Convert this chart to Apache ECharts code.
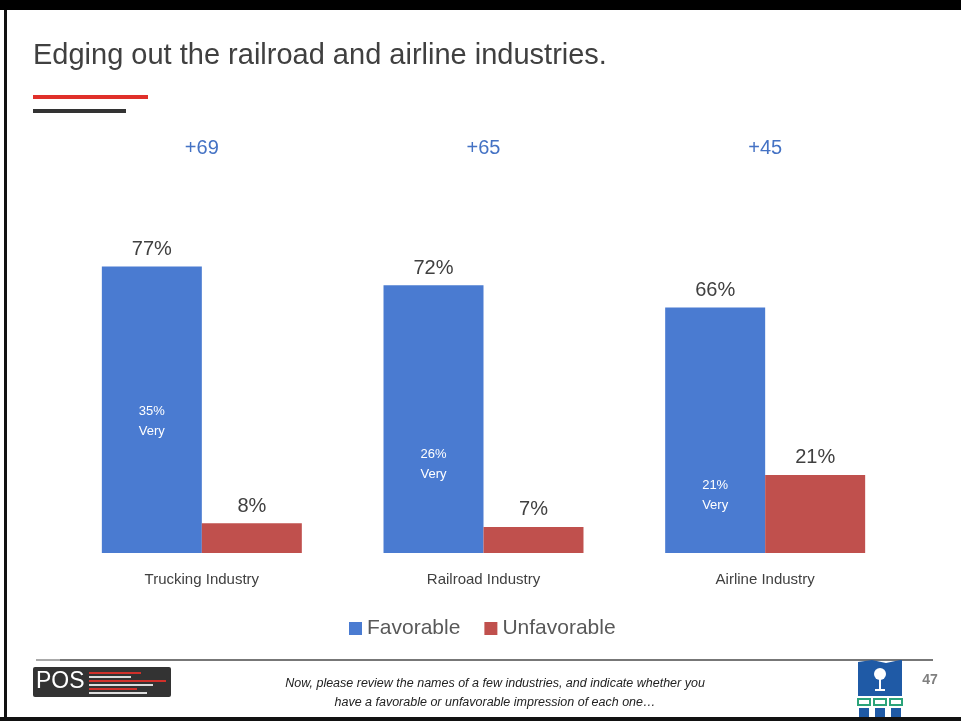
<!DOCTYPE html>
<html>
<head>
<meta charset="utf-8">
<script src="https://cdn.jsdelivr.net/npm/echarts@6/dist/echarts.min.js"></script>
<style>
html,body{margin:0;padding:0;background:#fff;}
#chart{width:961px;height:721px;}
</style>
</head>
<body>
<div id="chart"></div>
<script>
var categories = ['Trucking Industry', 'Railroad Industry', 'Airline Industry'];
var favorable = [77, 72, 66];
var unfavorable = [8, 7, 21];
var veryFavorable = [35, 26, 21];
var netScores = [69, 65, 45];

var chart = echarts.init(document.getElementById('chart'));
var FONT = "'Liberation Sans', 'Open Sans', sans-serif";
var veryOffsets = [[0, -1], [0, 8], [0, 21]];

var option = {
  animation: false,
  backgroundColor: '#ffffff',
  textStyle: { fontFamily: FONT },
  grid: { left: 61, right: 55, top: 181, bottom: 168 },
  legend: {
    left: 344, top: 613,
    itemWidth: 13, itemHeight: 13, itemGap: 24,
    icon: 'rect',
    textStyle: { fontSize: 21, color: '#595959', fontFamily: FONT },
    data: ['Favorable', 'Unfavorable']
  },
  xAxis: [{
    type: 'category', data: categories,
    axisLine: { show: false }, axisTick: { show: false },
    axisLabel: { margin: 19, fontSize: 15, color: '#404040', fontFamily: FONT }
  }, {
    type: 'category', data: categories, position: 'top',
    axisLine: { show: false }, axisTick: { show: false },
    axisLabel: {
      margin: 23, fontSize: 20, color: '#4472C4', fontFamily: FONT,
      formatter: function (v, i) { return '+' + netScores[i]; }
    }
  }],
  yAxis: { type: 'value', min: 0, max: 100, show: false, splitLine: { show: false } },
  series: [{
    name: 'Favorable', type: 'bar', data: favorable,
    barGap: '0%', barCategoryGap: '29%',
    itemStyle: { color: '#4A7BD1' },
    label: { show: true, position: 'top', distance: 7, fontSize: 20, color: '#404040',
      formatter: '{c}%' },
    markPoint: {
      symbol: 'rect', symbolSize: 0,
      data: veryFavorable.map(function (v, i) {
        return { coord: [i, v], value: v,
          label: { offset: veryOffsets[i] } };
      }),
      label: { show: true, position: 'inside', color: '#ffffff', fontSize: 13, lineHeight: 20,
        fontFamily: FONT,
        formatter: function (p) { return p.value + '%\nVery'; } }
    }
  }, {
    name: 'Unfavorable', type: 'bar', data: unfavorable,
    itemStyle: { color: '#C0504D' },
    label: { show: true, position: 'top', distance: 7, fontSize: 20, color: '#404040',
      formatter: '{c}%' }
  }],
  graphic: [
    { type: 'rect', shape: { x: 0, y: 0, width: 961, height: 10 }, style: { fill: '#000' } },
    { type: 'rect', shape: { x: 4, y: 10, width: 3, height: 711 }, style: { fill: '#111' } },
    { type: 'rect', shape: { x: 0, y: 717, width: 961, height: 4 }, style: { fill: '#111' } },
    { type: 'text', x: 33, y: 56,
      style: { text: 'Edging out the railroad and airline industries.', fontSize: 29,
        fill: '#404040', fontFamily: FONT, verticalAlign: 'middle' } },
    { type: 'rect', shape: { x: 33, y: 95, width: 115, height: 4 }, style: { fill: '#E0302A' } },
    { type: 'rect', shape: { x: 33, y: 109, width: 93, height: 4 }, style: { fill: '#333333' } },
    { type: 'rect', shape: { x: 36, y: 659, width: 24, height: 2 }, style: { fill: '#AAAAAA' } },
    { type: 'rect', shape: { x: 60, y: 659, width: 873, height: 2 }, style: { fill: '#777777' } },
    { type: 'rect', shape: { x: 33, y: 667, width: 138, height: 30, r: 2 }, style: { fill: '#333333' } },
    { type: 'text', x: 36, y: 682,
      style: { text: 'POS', fontSize: 23, fill: '#ffffff', fontFamily: FONT, verticalAlign: 'middle' } },
    { type: 'rect', shape: { x: 89, y: 672, width: 52, height: 2 }, style: { fill: '#D0302A' } },
    { type: 'rect', shape: { x: 89, y: 676, width: 42, height: 2 }, style: { fill: '#dddddd' } },
    { type: 'rect', shape: { x: 89, y: 680, width: 77, height: 2 }, style: { fill: '#D0302A' } },
    { type: 'rect', shape: { x: 89, y: 684, width: 64, height: 2 }, style: { fill: '#dddddd' } },
    { type: 'rect', shape: { x: 89, y: 688, width: 48, height: 2 }, style: { fill: '#D0302A' } },
    { type: 'rect', shape: { x: 89, y: 692, width: 58, height: 2 }, style: { fill: '#dddddd' } },
    { type: 'text', x: 495, y: 684,
      style: { text: 'Now, please review the names of a few industries, and indicate whether you',
        fontSize: 12.5, fontStyle: 'italic', fill: '#222222', fontFamily: FONT,
        align: 'center', verticalAlign: 'middle' } },
    { type: 'text', x: 495, y: 703,
      style: { text: 'have a favorable or unfavorable impression of each one…',
        fontSize: 12.5, fontStyle: 'italic', fill: '#222222', fontFamily: FONT,
        align: 'center', verticalAlign: 'middle' } },
    { type: 'polygon', shape: { points: [[858, 662], [872, 660], [886, 663], [900, 660], [902, 660], [902, 696], [858, 696]] },
      style: { fill: '#1F5AA6' } },
    { type: 'circle', shape: { cx: 880, cy: 674, r: 6 }, style: { fill: '#ffffff' } },
    { type: 'rect', shape: { x: 879, y: 678, width: 2, height: 12 }, style: { fill: '#ffffff' } },
    { type: 'rect', shape: { x: 875, y: 689, width: 10, height: 2 }, style: { fill: '#ffffff' } },
    { type: 'rect', shape: { x: 858, y: 699, width: 12, height: 6 }, style: { fill: 'none', stroke: '#2BA37A', lineWidth: 2 } },
    { type: 'rect', shape: { x: 874, y: 699, width: 12, height: 6 }, style: { fill: 'none', stroke: '#2BA37A', lineWidth: 2 } },
    { type: 'rect', shape: { x: 890, y: 699, width: 12, height: 6 }, style: { fill: 'none', stroke: '#2BA37A', lineWidth: 2 } },
    { type: 'rect', shape: { x: 859, y: 708, width: 10, height: 9 }, style: { fill: '#1F5AA6' } },
    { type: 'rect', shape: { x: 875, y: 708, width: 10, height: 9 }, style: { fill: '#1F5AA6' } },
    { type: 'rect', shape: { x: 891, y: 708, width: 10, height: 9 }, style: { fill: '#1F5AA6' } },
    { type: 'text', x: 930, y: 680,
      style: { text: '47', fontSize: 14, fontWeight: 'bold', fill: '#808080', fontFamily: FONT,
        align: 'center', verticalAlign: 'middle' } }
  ]
};
chart.setOption(option);
</script>
</body>
</html>
